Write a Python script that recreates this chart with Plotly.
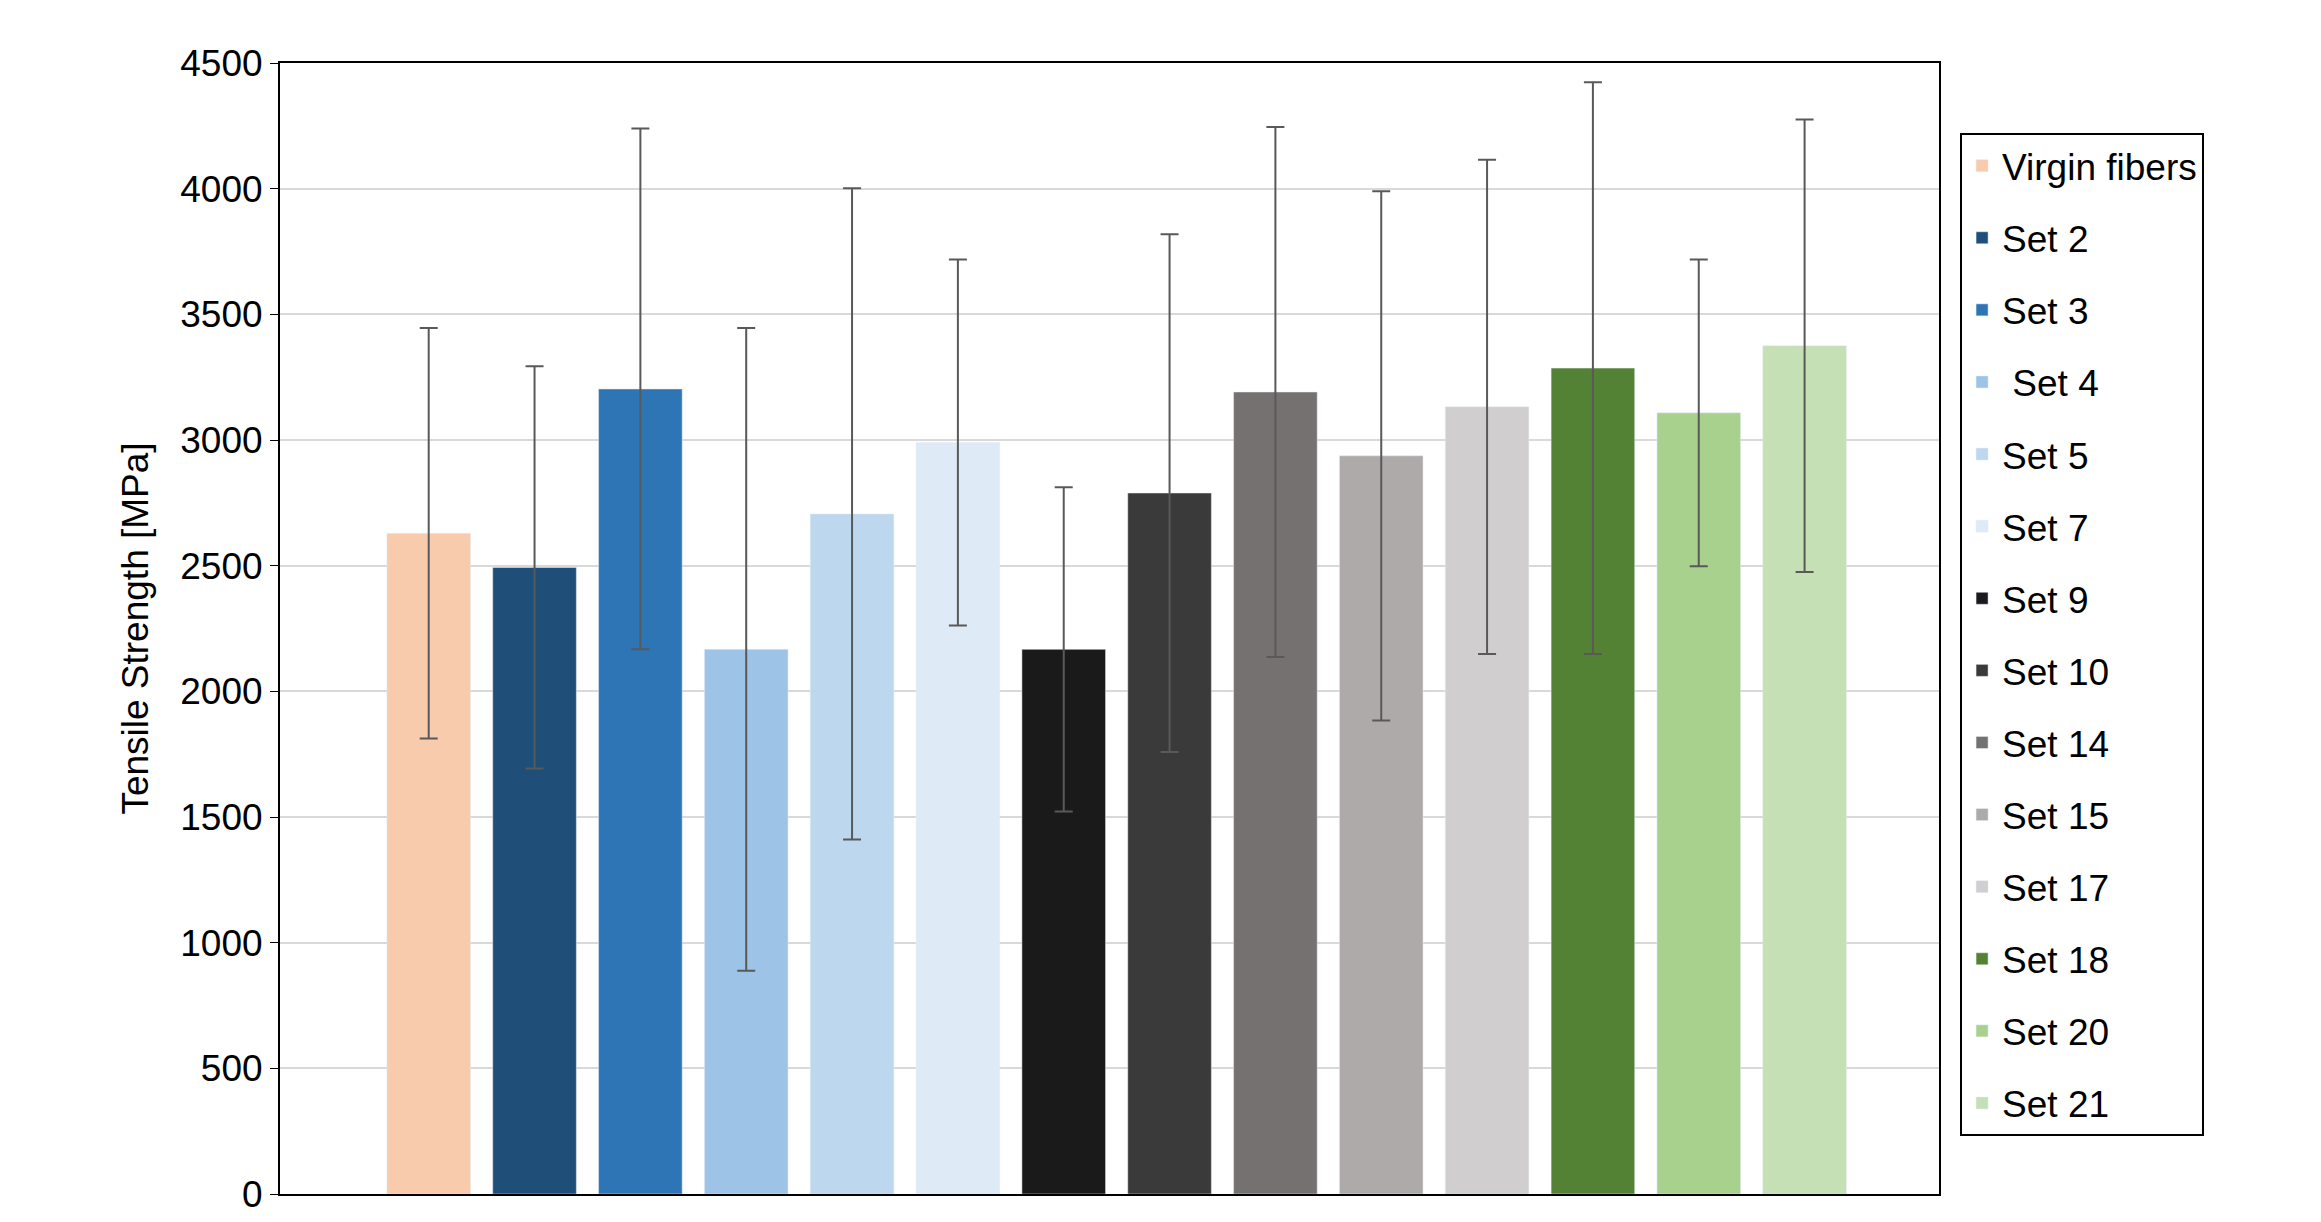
import plotly.graph_objects as go

names = ["Virgin fibers", "Set 2", "Set 3", " Set 4", "Set 5", "Set 7", "Set 9", "Set 10",
         "Set 14", "Set 15", "Set 17", "Set 18", "Set 20", "Set 21"]
values = [2629, 2493, 3203, 2167, 2706, 2990, 2167, 2789, 3191, 2937, 3132, 3286, 3108, 3375]
errors = [817, 800, 1036, 1279, 1296, 728, 645, 1030, 1054, 1053, 983, 1137, 610, 900]
colors = ["#F8CBAD", "#1F4E79", "#2E75B6", "#9DC3E6", "#BDD7EE", "#DEEBF7", "#1A1A1A",
          "#3A3A3A", "#767171", "#AEAAAA", "#D0CECE", "#548235", "#A9D18E", "#C5E0B4"]
yticks = [0, 500, 1000, 1500, 2000, 2500, 3000, 3500, 4000, 4500]

fig = go.Figure()
for i, (n, v, e, c) in enumerate(zip(names, values, errors, colors)):
    fig.add_trace(go.Bar(x=[i], y=[v], name=n, marker_color=c, width=0.79,
                         legendgroup=str(i),
                         error_y=dict(type="data", array=[e], color="#595959",
                                      thickness=2, width=9)))

fig.update_layout(
    width=2321, height=1222, plot_bgcolor="white", paper_bgcolor="white",
    margin=dict(l=272, r=390, t=55, b=36),
    font=dict(family="Liberation Sans, Arial, sans-serif", size=37, color="black"),
    showlegend=True,
    legend=dict(x=1.0127, y=0.938, xanchor="left", yanchor="top",
                bordercolor="black", borderwidth=2, traceorder="grouped",
                tracegroupgap=21, font=dict(size=37)),
    xaxis=dict(range=[-1.405, 14.27], showticklabels=False, showgrid=False,
               showline=True, linecolor="black", linewidth=2, mirror=True, ticks=""),
    yaxis=dict(range=[0, 4500], tickvals=yticks, showgrid=True, gridcolor="#D9D9D9",
               gridwidth=2, showline=True, linecolor="black", linewidth=2, mirror=True,
               ticks="outside", ticklen=8, tickcolor="black",
               title=dict(text="Tensile Strength [MPa]", font=dict(size=37), standoff=20)),
)
fig.write_html("out.html")
